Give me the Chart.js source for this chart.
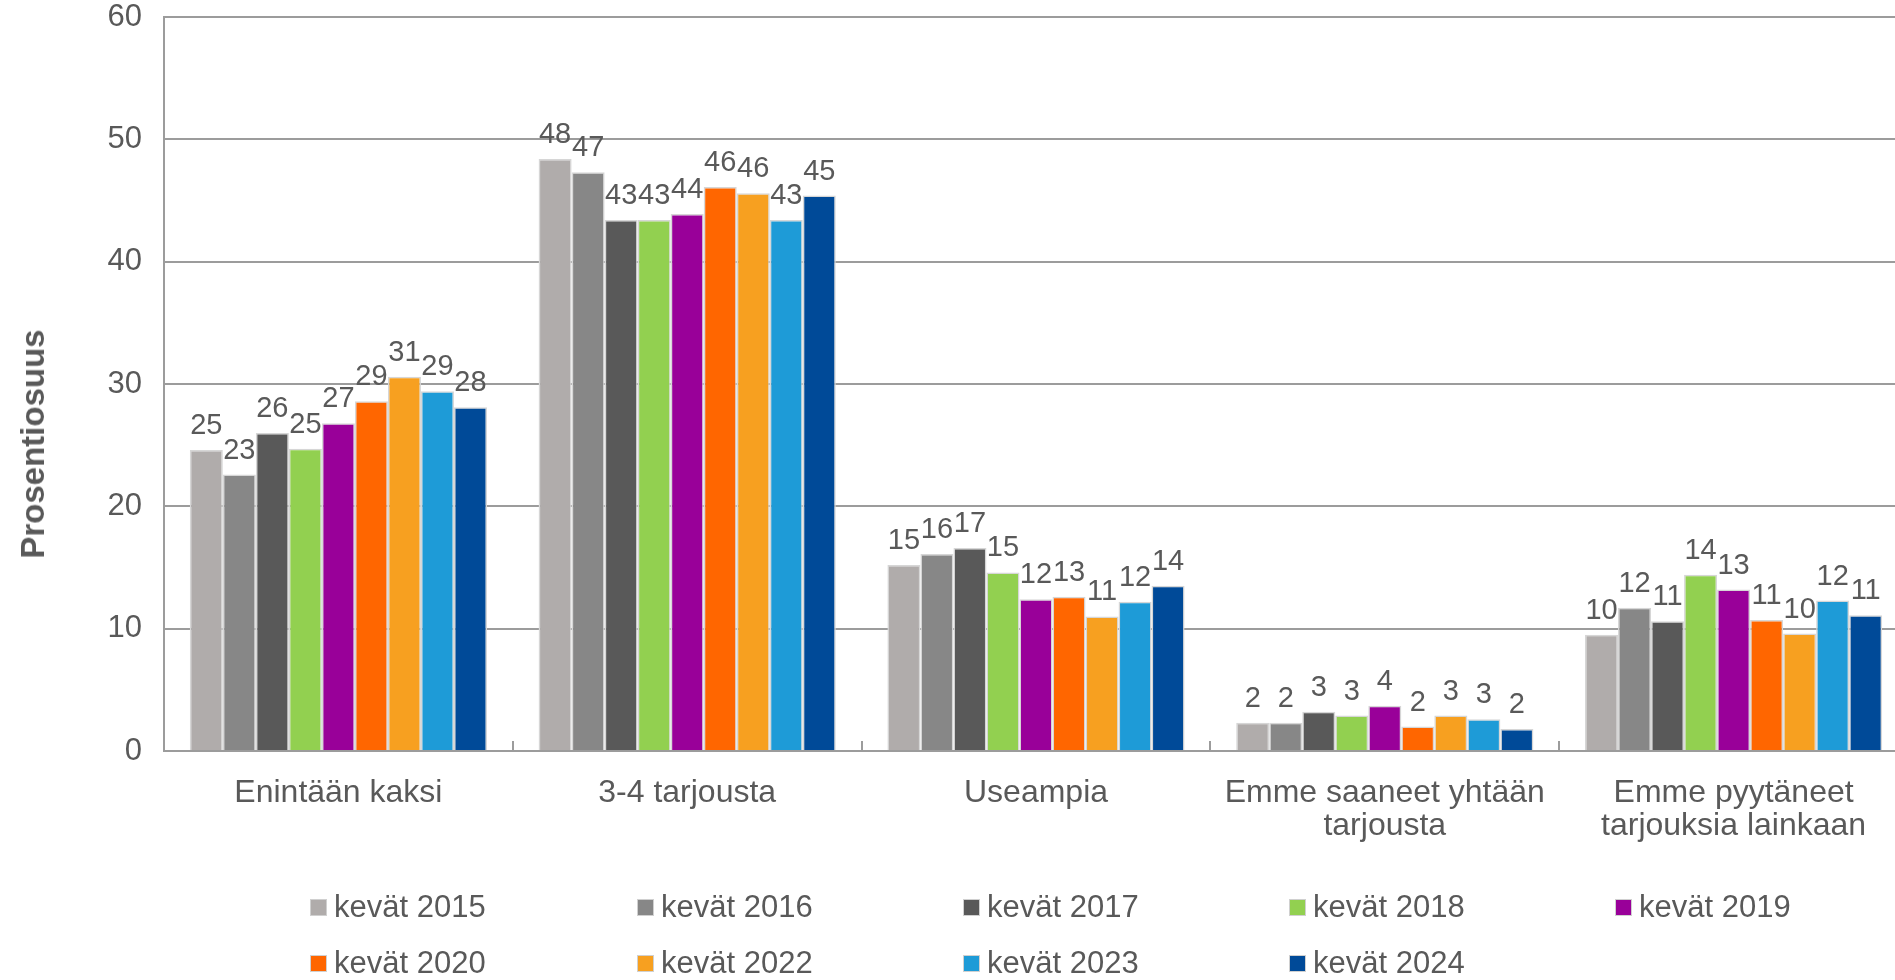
<!DOCTYPE html>
<html lang="fi">
<head>
<meta charset="utf-8">
<title>Tarjousten määrä</title>
<script src="https://cdn.jsdelivr.net/npm/chart.js@4.4.1/dist/chart.umd.min.js"></script>
<style>
    html, body { margin: 0; padding: 0; background: #fff; overflow: hidden; }
    #wrap { position: relative; width: 1895px; height: 980px; overflow: hidden; font-family: "Liberation Sans", Arial, sans-serif; color: #595959; }
    #chart { position: absolute; left: 0; top: 0; }
    #yTitle { position: absolute; left: 33px; top: 444px; transform: translate(-50%, -50%) rotate(-90deg); font-size: 33px; font-weight: bold; white-space: nowrap; }
    .legend-item { position: absolute; display: flex; align-items: center; height: 36px; font-size: 31px; white-space: nowrap; }
    .legend-box { width: 15px; height: 15px; border: 1px solid #d0d0d0; margin-right: 7px; }
</style>
</head>
<body>
<div id="wrap">
    <!-- canvas is a bit wider than the window: the plot runs past the right edge in the original -->
    <canvas id="chart" width="1908" height="980"></canvas>
    <div id="yTitle">Prosentiosuus</div>
    <div id="legend"></div>
</div>
<script>
// Categories (x axis)
const categories = [
    ['Enintään kaksi'],
    ['3-4 tarjousta'],
    ['Useampia'],
    ['Emme saaneet yhtään', 'tarjousta'],
    ['Emme pyytäneet', 'tarjouksia lainkaan']
];

// Series names
const seriesNames = ['kevät 2015', 'kevät 2016', 'kevät 2017', 'kevät 2018', 'kevät 2019',
                     'kevät 2020', 'kevät 2022', 'kevät 2023', 'kevät 2024'];

// Values per series, one per category (%)
const spring2015 = [24.6, 48.4, 15.2, 2.3, 9.5];
const spring2016 = [22.6, 47.3, 16.1, 2.3, 11.7];
const spring2017 = [26.0, 43.4, 16.6, 3.2, 10.6];
const spring2018 = [24.7, 43.4, 14.6, 2.9, 14.4];
const spring2019 = [26.8, 43.9, 12.4, 3.7, 13.2];
const spring2020 = [28.6, 46.1, 12.6, 2.0, 10.7];
const spring2022 = [30.6, 45.6, 11.0, 2.9, 9.6];
const spring2023 = [29.4, 43.4, 12.2, 2.6, 12.3];
const spring2024 = [28.1, 45.4, 13.5, 1.8, 11.1];

// Y axis ticks
const yMin = 0;
const yMax = 60;
const yStep = 10;

const seriesValues = [spring2015, spring2016, spring2017, spring2018, spring2019,
                      spring2020, spring2022, spring2023, spring2024];
const seriesColors = ['#b0acab', '#878787', '#595959', '#92d050', '#990099',
                      '#ff6600', '#f7a020', '#1e9bd7', '#004a98'];

const FONT = '"Liberation Sans", Arial, sans-serif';
const TEXT = '#595959';
const GRID = '#9c9c9c';

// Value labels above bars
const barLabels = {
    id: 'barLabels',
    afterDatasetsDraw(chart) {
        const ctx = chart.ctx;
        ctx.save();
        ctx.font = '29px ' + FONT;
        ctx.fillStyle = TEXT;
        ctx.textAlign = 'center';
        ctx.textBaseline = 'alphabetic';
        chart.data.datasets.forEach((ds, i) => {
            chart.getDatasetMeta(i).data.forEach((bar, j) => {
                ctx.fillText(Math.round(ds.data[j]), bar.x, bar.y - 16);
            });
        });
        ctx.restore();
    }
};

const datasets = seriesNames.map((name, i) => ({
    label: name,
    data: seriesValues[i],
    backgroundColor: seriesColors[i],
    borderColor: '#d6d6d6',
    borderWidth: 1.5
}));

new Chart(document.getElementById('chart'), {
    type: 'bar',
    data: { labels: categories, datasets: datasets },
    options: {
        responsive: false,
        animation: false,
        layout: { padding: { top: 17, right: 0, bottom: 0, left: 0 } },
        datasets: { bar: { categoryPercentage: 0.852, barPercentage: 1.0 } },
        plugins: {
            legend: { display: false },
            tooltip: { enabled: false }
        },
        scales: {
            x: {
                grid: { drawOnChartArea: false, drawTicks: true, tickLength: -10, color: GRID, lineWidth: 2 },
                border: { color: GRID, width: 2 },
                ticks: {
                    color: TEXT,
                    padding: 35,
                    font: { family: FONT, size: 32, lineHeight: 1.05 },
                    maxRotation: 0
                },
                afterFit: (scale) => { scale.height = 229; }
            },
            y: {
                min: yMin,
                max: yMax,
                ticks: {
                    stepSize: yStep,
                    color: TEXT,
                    padding: 22,
                    font: { family: FONT, size: 31 }
                },
                grid: { color: GRID, lineWidth: 2, drawTicks: false },
                border: { color: GRID, width: 2 },
                afterFit: (scale) => {
                    scale.width = 164;
                    scale.paddingTop = 17;
                    scale.paddingBottom = 0;
                }
            }
        }
    },
    plugins: [barLabels]
});

// HTML legend in a 5-column grid
const legend = document.getElementById('legend');
const colX = [310, 637, 963, 1289, 1615];
const rowY = [907, 963];
seriesNames.forEach((name, i) => {
    const item = document.createElement('div');
    item.className = 'legend-item';
    item.style.left = colX[i % 5] + 'px';
    item.style.top = (rowY[Math.floor(i / 5)] - 18) + 'px';
    const box = document.createElement('span');
    box.className = 'legend-box';
    box.style.background = seriesColors[i];
    const label = document.createElement('span');
    label.textContent = name;
    item.appendChild(box);
    item.appendChild(label);
    legend.appendChild(item);
});
</script>
</body>
</html>
